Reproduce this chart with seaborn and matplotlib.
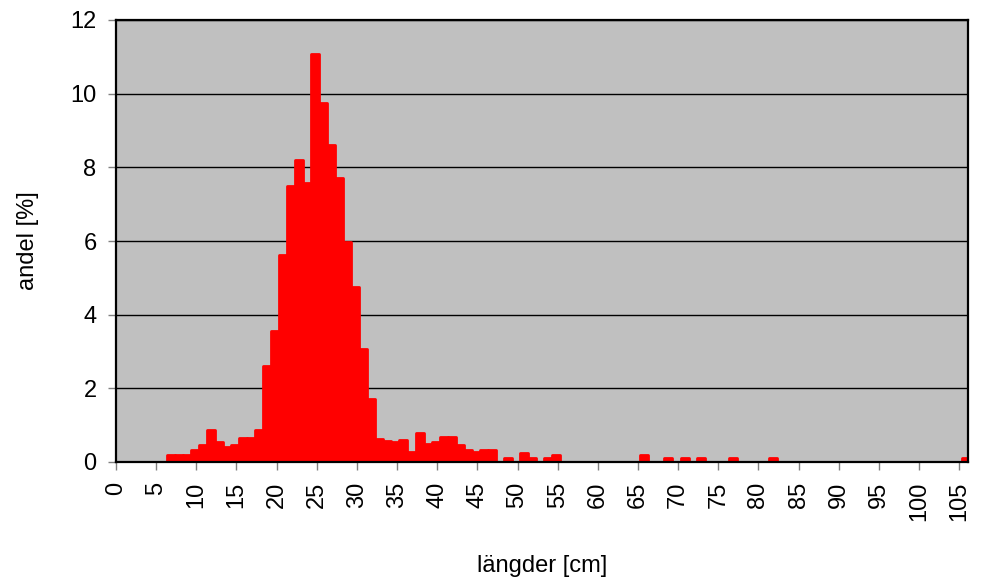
import numpy as np
import pandas as pd
import matplotlib
matplotlib.use("Agg")
import matplotlib.pyplot as plt
import seaborn as sns

# length classes (cm) with a non-zero share, and their share (%)
lengths = [7, 8, 9, 10, 11, 12, 13, 14, 15, 16, 17, 18, 19, 20, 21, 22, 23, 24,
           25, 26, 27, 28, 29, 30, 31, 32, 33, 34, 35, 36, 37, 38, 39, 40, 41,
           42, 43, 44, 45, 46, 47, 49, 51, 52, 54, 55, 66, 69, 71, 73, 77, 82, 106]
share = [0.18, 0.18, 0.18, 0.33, 0.45, 0.87, 0.55, 0.40, 0.45, 0.66, 0.66, 0.87,
         2.60, 3.57, 5.62, 7.50, 8.20, 7.58, 11.08, 9.75, 8.60, 7.70, 5.97, 4.75,
         3.08, 1.72, 0.62, 0.56, 0.53, 0.60, 0.28, 0.80, 0.50, 0.55, 0.68, 0.68,
         0.47, 0.32, 0.27, 0.32, 0.32, 0.10, 0.25, 0.10, 0.10, 0.18, 0.18, 0.10,
         0.10, 0.10, 0.10, 0.10, 0.10]
x_ticks = list(range(0, 106, 5))
y_ticks = list(range(0, 13, 2))
x_label = "längder [cm]"
y_label = "andel [%]"

sns.set_theme(style="white")
plt.rcParams["font.family"] = ["Liberation Sans", "DejaVu Sans"]
plt.rcParams["text.color"] = "black"
plt.rcParams["axes.labelcolor"] = "black"

df = pd.DataFrame({"length": np.array(lengths, dtype=float) - 0.2, "share": share})

fig = plt.figure(figsize=(9.81, 5.85), dpi=100)
ax = fig.add_axes([116 / 981, 1 - 462 / 585, (968 - 116) / 981, (462 - 20) / 585])
ax.set_facecolor("#C0C0C0")

sns.barplot(data=df, x="length", y="share", native_scale=True, width=1.0,
            color="#FF0000", saturation=1, edgecolor="#FF0000", linewidth=2.0,
            ax=ax, zorder=3)
for p in ax.patches:
    p.set_joinstyle("round")
    p.set_capstyle("round")

ax.set_xlim(0, 106.1)
ax.set_ylim(0, 12)
ax.set_xticks(x_ticks)
ax.set_xticklabels([str(t) for t in x_ticks], rotation=90, fontsize=17)
ax.set_yticks(y_ticks)
ax.set_yticklabels([str(t) for t in y_ticks], fontsize=17)

ax.yaxis.grid(True, color="black", linewidth=1.0)
ax.xaxis.grid(False)
ax.set_axisbelow(True)

for sp in ax.spines.values():
    sp.set_visible(True)
    sp.set_color("black")
    sp.set_linewidth(1.6)
    sp.set_zorder(5)

ax.tick_params(axis="both", which="major", direction="out", length=6, width=1.0,
               color="#808080", labelcolor="black", pad=8, bottom=True, left=True)

ax.set_xlabel(x_label, fontsize=17, va="center", color="black")
ax.set_ylabel(y_label, fontsize=17, va="center", color="black")
ax.xaxis.set_label_coords(0.5, -(566 - 462) / 442)
ax.yaxis.set_label_coords((28 - 116) / 852, 0.5)

fig.savefig("out.png", dpi=100)
